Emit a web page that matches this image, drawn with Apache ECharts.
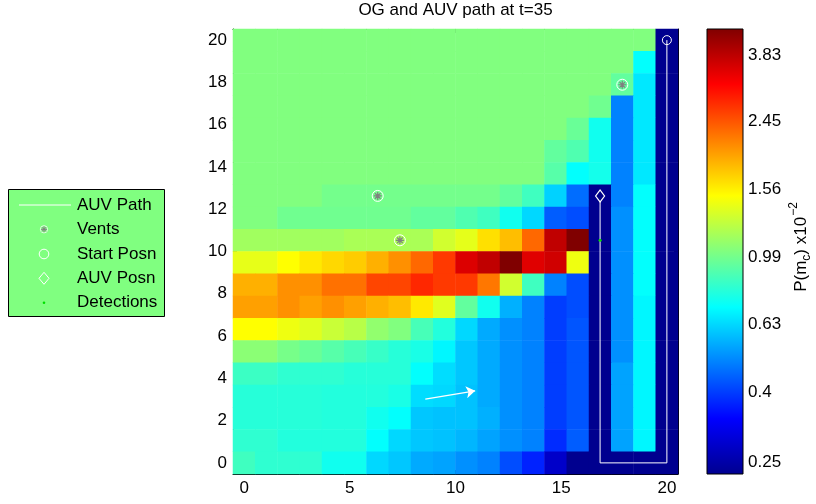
<!DOCTYPE html>
<html>
<head>
<meta charset="utf-8">
<title>OG and AUV path at t=35</title>
<script src="https://cdn.jsdelivr.net/npm/echarts@6/dist/echarts.min.js"></script>
<style>
html, body { margin: 0; padding: 0; background: #fff; }
#main { width: 816px; height: 504px; }
</style>
</head>
<body>
<div id="main"></div>
<script>
// occupancy grid P(m_c) (x1e-2), one array per grid row, top row (y = 20) first
var probRows = [
  [1.03,1.03,1.03,1.03,1.03,1.03,1.03,1.03,1.03,1.03,1.03,1.03,1.03,1.03,1.03,1.03,1.03,1.03,1.03,0.23],
  [1.03,1.03,1.03,1.03,1.03,1.03,1.03,1.03,1.03,1.03,1.03,1.03,1.03,1.03,1.03,1.03,1.03,1.03,0.71,0.23],
  [1.03,1.03,1.03,1.03,1.03,1.03,1.03,1.03,1.03,1.03,1.03,1.03,1.03,1.03,1.03,1.03,1.03,0.94,0.66,0.23],
  [1.03,1.03,1.03,1.03,1.03,1.03,1.03,1.03,1.03,1.03,1.03,1.03,1.03,1.03,1.03,1.03,0.98,0.49,0.66,0.23],
  [1.03,1.03,1.03,1.03,1.03,1.03,1.03,1.03,1.03,1.03,1.03,1.03,1.03,1.03,1.03,0.96,0.74,0.49,0.66,0.23],
  [1.03,1.03,1.03,1.03,1.03,1.03,1.03,1.03,1.03,1.03,1.03,1.03,1.03,1.03,0.94,0.89,0.74,0.49,0.66,0.23],
  [1.03,1.03,1.03,1.03,1.03,1.03,1.03,1.03,1.03,1.03,1.03,1.03,1.03,1.03,0.91,0.71,0.75,0.49,0.66,0.23],
  [1.03,1.03,1.03,1.03,0.99,0.99,0.99,0.99,0.99,0.99,0.99,0.99,0.94,0.85,0.62,0.46,0.23,0.49,0.71,0.23],
  [1.03,1.03,0.98,0.98,0.98,0.98,0.98,0.98,0.94,0.94,0.89,0.85,0.74,0.63,0.44,0.42,0.23,0.51,0.71,0.23],
  [1.13,1.13,1.13,1.13,1.13,1.16,1.16,1.16,1.16,1.30,1.38,1.63,1.80,2.32,3.78,4.55,0.23,0.51,0.71,0.23],
  [1.39,1.39,1.49,1.59,1.67,1.73,1.88,2.06,2.32,2.66,3.48,3.78,4.55,3.44,3.60,1.42,0.23,0.51,0.71,0.23],
  [1.88,1.88,2.06,2.06,2.26,2.26,2.57,2.57,2.80,2.66,2.66,2.22,1.30,0.85,0.49,0.42,0.23,0.51,0.71,0.23],
  [1.97,1.97,2.06,1.97,2.06,1.97,1.88,1.80,1.59,1.36,0.94,0.74,0.56,0.49,0.40,0.42,0.23,0.51,0.69,0.23],
  [1.49,1.49,1.42,1.36,1.27,1.21,1.08,1.03,0.87,0.78,0.63,0.55,0.51,0.49,0.40,0.43,0.23,0.51,0.69,0.23],
  [1.06,1.06,1.00,0.96,0.91,0.87,0.83,0.79,0.76,0.69,0.60,0.55,0.51,0.49,0.40,0.43,0.23,0.51,0.69,0.23],
  [0.84,0.84,0.81,0.81,0.81,0.79,0.79,0.79,0.71,0.64,0.60,0.55,0.51,0.49,0.40,0.43,0.23,0.54,0.69,0.23],
  [0.79,0.79,0.79,0.79,0.78,0.78,0.78,0.76,0.64,0.63,0.59,0.55,0.51,0.49,0.40,0.43,0.23,0.54,0.69,0.23],
  [0.79,0.79,0.79,0.79,0.78,0.78,0.74,0.71,0.60,0.59,0.59,0.56,0.51,0.49,0.40,0.43,0.23,0.54,0.69,0.23],
  [0.81,0.81,0.78,0.78,0.78,0.78,0.71,0.63,0.60,0.59,0.57,0.54,0.51,0.49,0.38,0.44,0.23,0.54,0.69,0.23],
  [0.85,0.81,0.81,0.81,0.74,0.74,0.63,0.60,0.55,0.54,0.51,0.49,0.42,0.37,0.28,0.23,0.23,0.23,0.23,0.23]
];

// AUV path, vents, positions (axis units)
var pathX = [20, 20, 16.84, 16.84];
var pathY = [20, 0, 0, 12.63];
var ventX = [6.32, 7.37, 17.89];
var ventY = [12.63, 10.53, 17.89];
var startX = [20], startY = [20];
var auvX = [16.84], auvY = [12.63];
var detectX = [16.84], detectY = [10.53];
var arrowX = [8.57, 10.93];
var arrowY = [3.02, 3.41];

var xTicks = [0, 5, 10, 15, 20];
var yTicks = [0, 2, 4, 6, 8, 10, 12, 14, 16, 18, 20];
var cbTicks = [0.25, 0.4, 0.63, 0.99, 1.56, 2.45, 3.83];
var cbLabels = ['0.25', '0.4', '0.63', '0.99', '1.56', '2.45', '3.83'];
var cbMin = 0.231, cbMax = 4.556;

var FONT = '"Liberation Sans", Arial, Helvetica, sans-serif';
var jetColors = ['#00008F', '#0000FF', '#0080FF', '#00FFFF', '#80FF80', '#FFFF00', '#FF8000', '#FF0000', '#800000'];

var nRows = probRows.length, nCols = probRows[0].length;
var heatData = [];
for (var r = 0; r < nRows; r++) {
  for (var c = 0; c < nCols; c++) {
    heatData.push([c, nRows - 1 - r, Math.log(probRows[r][c])]);
  }
}
var colCats = [], rowCats = [];
for (var i = 0; i < nCols; i++) colCats.push(i);
for (var j = 0; j < nRows; j++) rowCats.push(j);

function zip(a, b) {
  return a.map(function (v, k) { return [v, b[k]]; });
}

// cell spacing is 20/(n-1), so the box runs half a cell past 0 and 20
var half = 10 / (nCols - 1);
var lnMin = Math.log(cbMin), lnMax = Math.log(cbMax);
var cbTickPos = cbTicks.map(Math.log);

var jetStops = jetColors.map(function (col, k) {
  return { offset: k / (jetColors.length - 1), color: col };
});

var labelStyle = { color: '#000', fontSize: 17, fontFamily: FONT };

function valueAxis(pos, ticks, showLabel, grid, min, max) {
  return {
    type: 'value', gridIndex: grid, position: pos, min: min, max: max,
    axisLine: { show: true, onZero: false, lineStyle: { color: '#000', width: 1 } },
    axisTick: { show: true, inside: true, length: 4, customValues: ticks, lineStyle: { color: '#000' } },
    axisLabel: Object.assign({ show: showLabel, customValues: ticks, margin: 6 }, labelStyle),
    splitLine: { show: false }
  };
}

function legendText(y, txt) {
  return { type: 'text', x: 77, y: y, style: { text: txt, fill: '#000', fontSize: 17, fontFamily: FONT, verticalAlign: 'middle' } };
}

var chart = echarts.init(document.getElementById('main'));

var option = {
  animation: false,
  textStyle: { fontFamily: FONT },
  grid: [
    { left: 233, top: 29, width: 445, height: 445 },
    { left: 707, top: 29, width: 36, height: 445 }
  ],
  xAxis: [
    { type: 'category', gridIndex: 0, data: colCats, show: false },
    valueAxis('bottom', xTicks, true, 0, -half, 20 + half),
    valueAxis('top', xTicks, false, 0, -half, 20 + half),
    { type: 'category', gridIndex: 1, data: ['cb'], show: false }
  ],
  yAxis: [
    { type: 'category', gridIndex: 0, data: rowCats, show: false },
    valueAxis('left', yTicks, true, 0, -half, 20 + half),
    valueAxis('right', yTicks, false, 0, -half, 20 + half),
    Object.assign(valueAxis('right', cbTickPos, true, 1, lnMin, lnMax), {
      axisLine: { show: false }
    }),
    Object.assign(valueAxis('left', cbTickPos, false, 1, lnMin, lnMax), {
      axisLine: { show: false }
    })
  ],
  visualMap: {
    type: 'continuous', show: false, seriesIndex: 0, dimension: 2,
    min: lnMin, max: lnMax, inRange: { color: jetColors }
  },
  series: [
    {
      type: 'heatmap', xAxisIndex: 0, yAxisIndex: 0, data: heatData,
      itemStyle: { borderWidth: 0 }, emphasis: { disabled: true }, silent: true
    },
    {
      type: 'line', xAxisIndex: 1, yAxisIndex: 1, data: zip(pathX, pathY),
      symbol: 'none', lineStyle: { color: '#fff', width: 1 }, silent: true, z: 5
    },
    {
      type: 'lines', coordinateSystem: 'cartesian2d', xAxisIndex: 1, yAxisIndex: 1,
      data: [{ coords: zip(arrowX, arrowY) }],
      symbol: ['none', 'arrow'], symbolSize: 9,
      lineStyle: { color: '#fff', width: 1.3, opacity: 1 }, silent: true, z: 5
    },
    {
      type: 'scatter', xAxisIndex: 1, yAxisIndex: 1, data: zip(ventX, ventY),
      symbol: 'circle', symbolSize: 11,
      itemStyle: { color: 'rgba(0,0,0,0)', borderColor: '#fff', borderWidth: 1, opacity: 1 },
      silent: true, z: 6
    },
    {
      type: 'scatter', xAxisIndex: 1, yAxisIndex: 1, data: zip(ventX, ventY),
      symbol: 'path://M5 0L5 10M0 5L10 5M1.46 1.46L8.54 8.54M8.54 1.46L1.46 8.54', symbolSize: 8,
      itemStyle: { color: 'rgba(0,0,0,0)', borderColor: '#808080', borderWidth: 1.2, opacity: 1 },
      silent: true, z: 7
    },
    {
      type: 'scatter', xAxisIndex: 1, yAxisIndex: 1, data: zip(startX, startY),
      symbol: 'circle', symbolSize: 9,
      itemStyle: { color: 'rgba(0,0,0,0)', borderColor: '#fff', borderWidth: 1, opacity: 1 },
      silent: true, z: 6
    },
    {
      type: 'scatter', xAxisIndex: 1, yAxisIndex: 1, data: zip(auvX, auvY),
      symbol: 'diamond', symbolSize: [9, 12],
      itemStyle: { color: '#000088', borderColor: '#fff', borderWidth: 1.2, opacity: 1 },
      silent: true, z: 6
    },
    {
      type: 'scatter', xAxisIndex: 1, yAxisIndex: 1, data: zip(detectX, detectY),
      symbol: 'circle', symbolSize: 3,
      itemStyle: { color: '#00E000', opacity: 1 }, silent: true, z: 6
    },
    {
      type: 'custom', xAxisIndex: 3, yAxisIndex: 3, data: [[0, lnMin]], silent: true,
      renderItem: function (params, api) {
        var cs = params.coordSys;
        return {
          type: 'rect',
          shape: { x: cs.x, y: cs.y, width: cs.width, height: cs.height },
          style: {
            fill: new echarts.graphic.LinearGradient(0, 1, 0, 0, jetStops),
            stroke: '#000', lineWidth: 1
          }
        };
      }
    }
  ],
  graphic: [
    {
      type: 'text', x: 455.5, y: 10,
      style: { text: 'OG and AUV path at t=35', fill: '#000', fontSize: 17, fontFamily: FONT, align: 'center', verticalAlign: 'middle' }
    },
    {
      type: 'text', x: 801, y: 247, rotation: Math.PI / 2,
      style: {
        text: '{a|P(m}{b|c}{a|) x10}{c|−2}',
        align: 'center', verticalAlign: 'middle', fill: '#000',
        rich: {
          a: { fontSize: 17, fontFamily: FONT, fill: '#000' },
          b: { fontSize: 12, fontFamily: FONT, fill: '#000', padding: [12, 0, 0, 0] },
          c: { fontSize: 12, fontFamily: FONT, fill: '#000', padding: [0, 0, 14, 1] }
        }
      }
    },
    // legend box
    { type: 'rect', shape: { x: 8.5, y: 189.5, width: 156, height: 127 }, style: { fill: '#80FF80', stroke: '#000', lineWidth: 1 }, z: 10 },
    { type: 'line', shape: { x1: 19, y1: 205, x2: 71, y2: 205 }, style: { stroke: '#fff', lineWidth: 1 }, z: 11 },
    { type: 'circle', shape: { cx: 44, cy: 229.3, r: 3.6 }, style: { fill: 'none', stroke: '#fff', lineWidth: 0.8 }, z: 11 },
    { type: 'line', shape: { x1: 44, y1: 226.3, x2: 44, y2: 232.3 }, style: { stroke: '#808080', lineWidth: 1 }, z: 12 },
    { type: 'line', shape: { x1: 41, y1: 229.3, x2: 47, y2: 229.3 }, style: { stroke: '#808080', lineWidth: 1 }, z: 12 },
    { type: 'line', shape: { x1: 41.9, y1: 227.2, x2: 46.1, y2: 231.4 }, style: { stroke: '#808080', lineWidth: 1 }, z: 12 },
    { type: 'line', shape: { x1: 46.1, y1: 227.2, x2: 41.9, y2: 231.4 }, style: { stroke: '#808080', lineWidth: 1 }, z: 12 },
    { type: 'circle', shape: { cx: 44, cy: 254, r: 4.8 }, style: { fill: 'none', stroke: '#fff', lineWidth: 1 }, z: 11 },
    { type: 'polygon', shape: { points: [[44, 272.3], [49, 278.3], [44, 284.3], [39, 278.3]] }, style: { fill: 'none', stroke: '#fff', lineWidth: 1 }, z: 11 },
    { type: 'circle', shape: { cx: 44, cy: 302.7, r: 1.3 }, style: { fill: '#00E000' }, z: 11 },
    Object.assign(legendText(205, 'AUV Path'), { z: 11 }),
    Object.assign(legendText(229.3, 'Vents'), { z: 11 }),
    Object.assign(legendText(254, 'Start Posn'), { z: 11 }),
    Object.assign(legendText(278.3, 'AUV Posn'), { z: 11 }),
    Object.assign(legendText(302.7, 'Detections'), { z: 11 })
  ]
};

// colorbar tick labels show the P values, not their logs
option.yAxis[3].axisLabel.formatter = function (v) {
  var best = 0;
  for (var k = 1; k < cbTickPos.length; k++) {
    if (Math.abs(cbTickPos[k] - v) < Math.abs(cbTickPos[best] - v)) best = k;
  }
  return cbLabels[best];
};
option.yAxis[3].axisLabel.margin = 5;

chart.setOption(option);
</script>
</body>
</html>
